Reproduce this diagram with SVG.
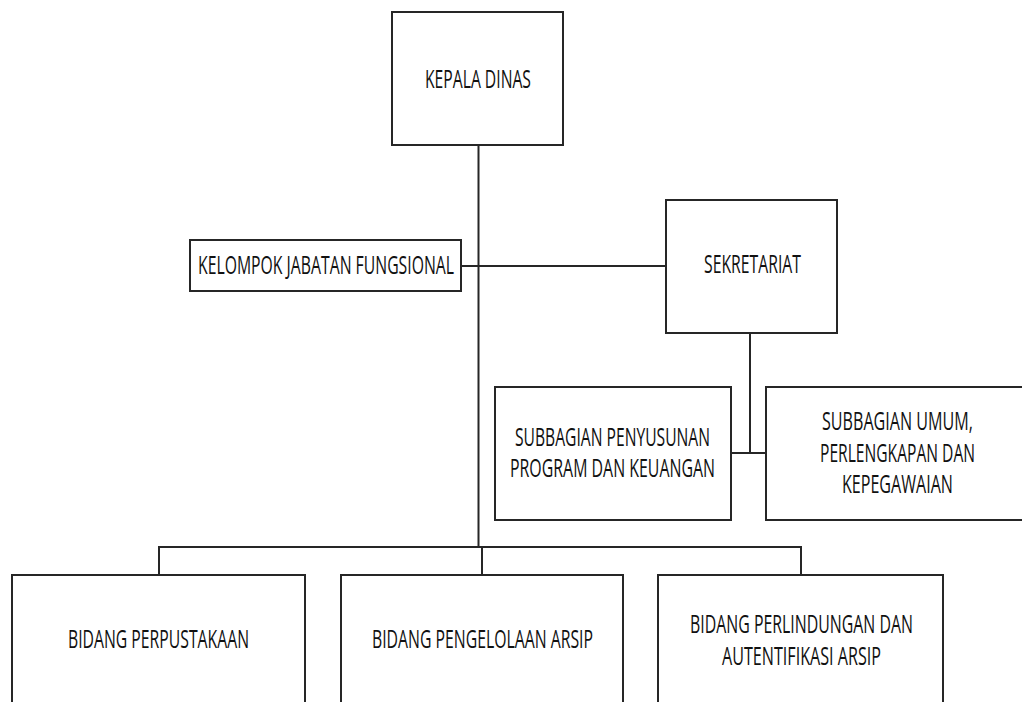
<svg xmlns="http://www.w3.org/2000/svg" width="1022" height="702" viewBox="0 0 1022 702">
<style>
.box{fill:#fff;stroke:#262626;stroke-width:2}
.ln{fill:none;stroke:#262626;stroke-width:2}
.t{font-family:"Open Sans","Liberation Sans",sans-serif;font-size:25px;fill:#111}
</style>
<rect width="1022" height="702" fill="#fff"/>
<g id="connectors">
<line class="ln" x1="478.5" y1="145" x2="478.5" y2="547"/>
<line class="ln" x1="461" y1="266" x2="666" y2="266"/>
<line class="ln" x1="750" y1="333" x2="750" y2="453"/>
<line class="ln" x1="731" y1="453" x2="766" y2="453"/>
<line class="ln" x1="158" y1="547" x2="802" y2="547"/>
<line class="ln" x1="159" y1="547" x2="159" y2="575"/>
<line class="ln" x1="482" y1="547" x2="482" y2="575"/>
<line class="ln" x1="801" y1="547" x2="801" y2="575"/>
</g>
<g id="kepala-dinas">
<rect class="box" x="392" y="12" width="171" height="133"/>
<text class="t" transform="translate(425 88) scale(0.64 1)" textLength="165.6" lengthAdjust="spacingAndGlyphs">KEPALA DINAS</text>
</g>
<g id="kelompok-jabatan-fungsional">
<rect class="box" x="190" y="240" width="271" height="51"/>
<text class="t" transform="translate(198 274) scale(0.64 1)" textLength="400" lengthAdjust="spacingAndGlyphs">KELOMPOK JABATAN FUNGSIONAL</text>
</g>
<g id="sekretariat">
<rect class="box" x="666" y="200" width="171" height="133"/>
<text class="t" transform="translate(704 273) scale(0.64 1)" textLength="151.6" lengthAdjust="spacingAndGlyphs">SEKRETARIAT</text>
</g>
<g id="subbagian-penyusunan">
<rect class="box" x="495" y="387" width="236" height="133"/>
<text class="t" transform="translate(515 446) scale(0.64 1)" textLength="304.7" lengthAdjust="spacingAndGlyphs">SUBBAGIAN PENYUSUNAN</text>
<text class="t" transform="translate(510 477) scale(0.64 1)" textLength="320.3" lengthAdjust="spacingAndGlyphs">PROGRAM DAN KEUANGAN</text>
</g>
<g id="subbagian-umum">
<rect class="box" x="766" y="387" width="270" height="133"/>
<text class="t" transform="translate(822 430) scale(0.64 1)" textLength="236" lengthAdjust="spacingAndGlyphs">SUBBAGIAN UMUM,</text>
<text class="t" transform="translate(820 462) scale(0.64 1)" textLength="242.2" lengthAdjust="spacingAndGlyphs">PERLENGKAPAN DAN</text>
<text class="t" transform="translate(842 493) scale(0.64 1)" textLength="173.4" lengthAdjust="spacingAndGlyphs">KEPEGAWAIAN</text>
</g>
<g id="bidang-perpustakaan">
<rect class="box" x="12" y="575" width="293" height="140"/>
<text class="t" transform="translate(68 648) scale(0.64 1)" textLength="282.8" lengthAdjust="spacingAndGlyphs">BIDANG PERPUSTAKAAN</text>
</g>
<g id="bidang-pengelolaan-arsip">
<rect class="box" x="341" y="575" width="282" height="140"/>
<text class="t" transform="translate(372 648) scale(0.64 1)" textLength="345.3" lengthAdjust="spacingAndGlyphs">BIDANG PENGELOLAAN ARSIP</text>
</g>
<g id="bidang-perlindungan">
<rect class="box" x="658" y="575" width="285" height="140"/>
<text class="t" transform="translate(690 633) scale(0.64 1)" textLength="348.4" lengthAdjust="spacingAndGlyphs">BIDANG PERLINDUNGAN DAN</text>
<text class="t" transform="translate(722 665) scale(0.64 1)" textLength="248.4" lengthAdjust="spacingAndGlyphs">AUTENTIFIKASI ARSIP</text>
</g>
</svg>
